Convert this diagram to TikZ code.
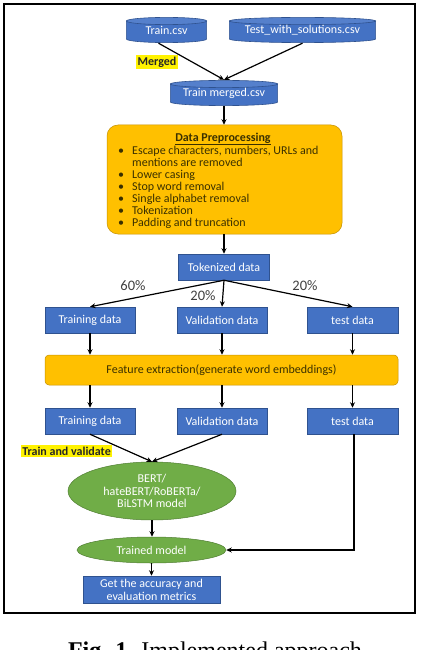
\documentclass[tikz,border=0pt]{standalone}
\usepackage{fontspec}
\setmainfont{Carlito}
\newfontfamily\capfont{Liberation Serif}
\usetikzlibrary{arrows.meta,calc,shapes.geometric}
\definecolor{obl}{HTML}{4472C4}
\definecolor{oblL}{HTML}{5580CC}
\definecolor{oblD}{HTML}{2F528F}
\definecolor{ogold}{HTML}{FFC000}
\definecolor{ogoldD}{HTML}{C49000}
\definecolor{ogrn}{HTML}{70AD47}
\definecolor{ogrnD}{HTML}{507E32}
\definecolor{dtext}{HTML}{3A3000}
\definecolor{ltext}{HTML}{404040}
\tikzset{
  base/.style={font=\fontsize{12}{13}\selectfont, inner sep=0pt},
  bbox/.style={base, rectangle, fill=obl, draw=oblD, line width=0.5pt, text=white, minimum height=26pt, align=center},
  db/.style={base, rectangle, text=white, minimum height=26pt,
    path picture={
      \path let \p1=(path picture bounding box.south west), \p2=(path picture bounding box.north east),
        \n1={(\x2-\x1)/2-0.4pt}, \n2={(\x1+\x2)/2} in
        [fill=obl, draw=oblD, line width=0.6pt]
        (\x1+0.4pt,\y2-4pt) -- (\x1+0.4pt,\y1+4pt)
        arc[start angle=180, end angle=360, x radius=\n1, y radius=3.6pt]
        -- (\x2-0.4pt,\y2-4pt) -- cycle;
      \path let \p1=(path picture bounding box.south west), \p2=(path picture bounding box.north east),
        \n1={(\x2-\x1)/2-0.4pt}, \n2={(\x1+\x2)/2} in
        [fill=oblL, draw=oblD, line width=0.6pt]
        (\n2,\y2-4pt) ellipse[x radius=\n1, y radius=3.6pt];
    }},
  gbox/.style={base, rectangle, rounded corners=#1, fill=ogold, draw=ogoldD, line width=0.5pt, text=dtext},
  gbox/.default=4pt,
  gell/.style={base, ellipse, fill=ogrn, draw=ogrnD, line width=0.5pt, text=white, align=center},
  hl/.style={base, fill=yellow, inner xsep=1.2pt, inner ysep=1.5pt, font=\bfseries\fontsize{12}{13}\selectfont, text=black!85},
  pct/.style={base, font=\fontsize{14.5}{16}\selectfont, text=ltext},
  itm/.style={base, anchor=base west, text=dtext},
  conn/.style={line width=1.2pt, -{Stealth[length=5.5pt,width=5pt]}}
}
\begin{document}
\begin{tikzpicture}[x=1pt,y=1pt]
\useasboundingbox (0,0) rectangle (422,-650);
\fill[white] (0,0) rectangle (422,-650);
\draw[line width=2pt] (4,-4) rectangle (415,-613);

% sources
\node[db, minimum width=81pt] (train) at (166.5,-30) {Train.csv};
\node[db, minimum width=147pt] (testsol) at (302.5,-30) {Test\_with\_solutions.csv};
\node[hl] (mlabel) at (157,-62) {Merged};
\node[db, minimum width=108pt] (merged) at (224,-93) {Train merged.csv};
\draw[conn] ([xshift=-8pt]train.south) -- (merged.north);
\draw[conn] (testsol.south) -- (merged.north);

% preprocessing
\node[gbox=11pt, minimum width=235pt, minimum height=109pt] (dp) at (224.5,-179.5) {};
\draw[conn] (merged.south) -- (merged.south |- dp.north);
\node[base, anchor=base, text=dtext, font=\bfseries\fontsize{12}{13}\selectfont] (dpt) at (223,-141) {\underline{Data Preprocessing}};
\node[itm] (b1) at (118,-154) {•};
\node[itm] (t1) at (132,-154) {Escape characters, numbers, URLs and};
\node[itm] (t1b) at (132,-166) {mentions are removed};
\node[itm] (b2) at (118,-178) {•};
\node[itm] (t2) at (132,-178) {Lower casing};
\node[itm] (b3) at (118,-190.5) {•};
\node[itm] (t3) at (132,-190.5) {Stop word removal};
\node[itm] (b4) at (118,-202.5) {•};
\node[itm] (t4) at (132,-202.5) {Single alphabet removal};
\node[itm] (b5) at (118,-214.5) {•};
\node[itm] (t5) at (132,-214.5) {Tokenization};
\node[itm] (b6) at (118,-226.5) {•};
\node[itm] (t6) at (132,-226.5) {Padding and truncation};

% tokenized
\node[bbox, minimum width=91pt] (tok) at (224,-267) {Tokenized data};
\draw[conn] (dp.south -| tok.north) -- (tok.north);

% split row
\node[bbox, minimum width=90pt] (tr1) at (90,-320) {Training data};
\node[bbox, minimum width=90pt] (va1) at (222,-320) {Validation data};
\node[bbox, minimum width=91pt] (te1) at (352.5,-320) {test data};
\draw[conn] (tok.south) -- (tr1.north);
\draw[conn] (tok.south) -- (va1.north);
\draw[conn] (tok.south) -- (te1.north);
\node[pct] (p60) at (133,-286) {60\%};
\node[pct] (p20a) at (203,-296) {20\%};
\node[pct] (p20b) at (305,-286) {20\%};

% feature extraction
\node[gbox=4pt, minimum width=353pt, minimum height=30pt] (feat) at (221.5,-370) {Feature extraction(generate word embeddings)};
\draw[conn] (tr1.south) -- (tr1.south |- feat.north);
\draw[conn] (va1.south) -- (va1.south |- feat.north);
\draw[conn] (te1.south) -- (te1.south |- feat.north);

% second row
\node[bbox, minimum width=90pt] (tr2) at (90,-421) {Training data};
\node[bbox, minimum width=90pt] (va2) at (222,-421) {Validation data};
\node[bbox, minimum width=91pt] (te2) at (352.5,-421) {test data};
\draw[conn] (feat.south -| tr2.north) -- (tr2.north);
\draw[conn] (feat.south -| va2.north) -- (va2.north);
\draw[conn] (feat.south -| te2.north) -- (te2.north);
\node[hl] (tvlabel) at (66.5,-451) {Train and validate};

% models
\node[gell, minimum width=168pt, minimum height=58pt, font=\fontsize{12}{12.5}\selectfont] (bert) at (152,-491) {BERT/\\hateBERT/RoBERTa/\\BiLSTM model};
\draw[conn] (tr2.south) -- (bert.north);
\draw[conn] (va2.south) -- (bert.north);
\node[gell, minimum width=149pt, minimum height=26pt] (trained) at (151.5,-550) {Trained model};
\draw[conn] (bert.south) -- (bert.south |- trained.north);
\draw[conn] ([xshift=1.5pt]te2.south) |- (trained.east);
\node[bbox, minimum width=137pt, minimum height=27pt, font=\fontsize{12}{13}\selectfont] (get) at (151.5,-589.5) {Get the accuracy and\\evaluation metrics};
\draw[conn] (trained.south) -- (trained.south |- get.north);

% caption
\node[base, anchor=base, font=\capfont\fontsize{24}{28}\selectfont] (cap) at (215,-658) {\textbf{Fig. 1.} Implemented approach};
\end{tikzpicture}
\end{document}
